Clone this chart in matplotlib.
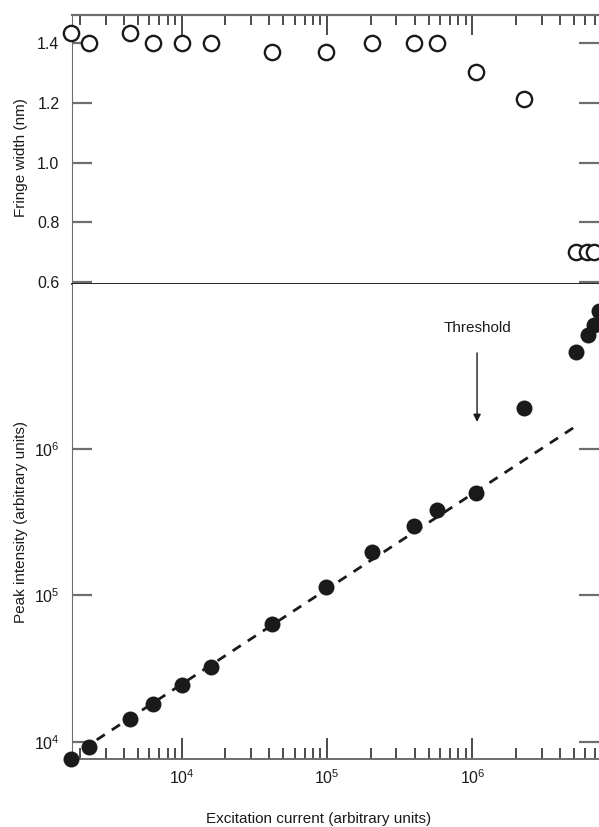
import matplotlib
matplotlib.use("Agg")
import matplotlib.pyplot as plt
from matplotlib.ticker import LogLocator, NullFormatter, NullLocator, FixedLocator

# ==========================
# DATA
# ==========================

# excitation current for the fringe-width points
fringe_x = [1.73e3, 2.31e3, 4.41e3, 6.34e3, 1.0e4, 1.58e4, 4.21e4, 9.85e4,
            2.05e5, 3.97e5, 5.74e5, 1.054e6, 2.27e6, 5.18e6, 6.17e6, 6.88e6]
fringe_w = [1.435, 1.40, 1.435, 1.402, 1.402, 1.402, 1.37, 1.37,
            1.402, 1.402, 1.402, 1.305, 1.212, 0.70, 0.70, 0.70]

# excitation current for the peak-intensity points
peak_x = [1.74e3, 2.31e3, 4.41e3, 6.34e3, 1.0e4, 1.58e4, 4.21e4, 9.85e4,
          2.05e5, 3.97e5, 5.74e5, 1.054e6, 2.27e6, 5.2e6, 6.2e6, 6.9e6, 7.45e6]
peak_i = [7.6e3, 9.16e3, 1.43e4, 1.80e4, 2.45e4, 3.26e4, 6.34e4, 1.146e5,
          1.976e5, 2.965e5, 3.81e5, 5.0e5, 1.90e6, 4.63e6, 6.0e6, 7.0e6, 8.7e6]

# dashed power-law guide below threshold (end points)
fit_x = [2.6e3, 5.09e6]
fit_y = [1.03e4, 1.42e6]

# threshold arrow
thr_x = 1.077e6
thr_tail = 4.53e6
thr_tip = 1.53e6
thr_text_y = 6.7e6

fringe_ticks = [0.6, 0.8, 1.0, 1.2, 1.4]
peak_ticks = [1e4, 1e5, 1e6]

# ==========================
# STYLE
# ==========================

font = ["Liberation Sans", "DejaVu Sans"]
plt.rcParams["font.family"] = font
plt.rcParams["mathtext.fontset"] = "custom"
plt.rcParams["mathtext.rm"] = "Liberation Sans"
plt.rcParams["mathtext.it"] = "Liberation Sans"
plt.rcParams["font.size"] = 11

axis_grey = "#6e6e6e"
ink = "#1a1a1a"

fig = plt.figure(figsize=(5.99, 8.27), dpi=100)

ax_top = fig.add_axes([0.1202, 0.6566, 0.88, 0.3253])
ax_bot = fig.add_axes([0.1202, 0.0822, 0.88, 0.5744])

xlim = (1758, 7.45e6)

# ==========================
# TOP PANEL - FRINGE WIDTH
# ==========================

ax_top.plot(fringe_x, fringe_w, "o", ms=11, mfc="white", mec=ink,
            mew=1.7, clip_on=False, zorder=5)

ax_top.set_xscale("log")
ax_top.set_xlim(xlim)
ax_top.set_ylim(0.594, 1.495)
ax_top.set_yticks(fringe_ticks)
ax_top.set_yticklabels(["0.6", "0.8", "1.0", "1.2", "1.4"])
ax_top.xaxis.set_major_locator(LogLocator(base=10))
ax_top.xaxis.set_minor_locator(LogLocator(base=10, subs=range(2, 10)))
ax_top.xaxis.set_major_formatter(NullFormatter())
ax_top.xaxis.set_minor_formatter(NullFormatter())
ax_top.tick_params(axis="x", which="both", direction="in", top=True,
                   bottom=False, labelbottom=False, color=ink, width=1.1)
ax_top.tick_params(axis="x", which="major", length=14.5)
ax_top.tick_params(axis="x", which="minor", length=7.5)
ax_top.tick_params(axis="y", which="major", direction="in", left=True,
                   right=True, length=14.5, width=1.6, color=axis_grey,
                   pad=9, labelsize=11.5, labelcolor=ink)
ax_top.yaxis.set_minor_locator(NullLocator())
ax_top.set_ylabel("Fringe width (nm)", fontsize=11, color=ink)
ax_top.yaxis.set_label_coords(-0.083, 0.47)

ax_top.spines["right"].set_visible(False)
ax_top.spines["left"].set_color(axis_grey)
ax_top.spines["top"].set_color(axis_grey)
ax_top.spines["top"].set_linewidth(1.6)
ax_top.spines["bottom"].set_color("black")
ax_top.spines["bottom"].set_linewidth(1.2)

# ==========================
# BOTTOM PANEL - PEAK INTENSITY
# ==========================

ax_bot.plot(fit_x, fit_y, color=ink, lw=2.0, dashes=(3.5, 3), zorder=3)
ax_bot.plot(peak_x, peak_i, "o", ms=11.5, color=ink, mew=0,
            clip_on=False, zorder=5)

ax_bot.annotate("", xy=(thr_x, thr_tip), xytext=(thr_x, thr_tail),
                arrowprops=dict(arrowstyle="-|>", color=ink, lw=1.0,
                                mutation_scale=11, shrinkA=0, shrinkB=0))
ax_bot.text(thr_x, thr_text_y, "Threshold", ha="center", va="center",
            fontsize=11, color=ink)

ax_bot.set_xscale("log")
ax_bot.set_yscale("log")
ax_bot.set_xlim(xlim)
ax_bot.set_ylim(7620, 1.34e7)
ax_bot.yaxis.set_major_locator(FixedLocator(peak_ticks))
ax_bot.yaxis.set_minor_locator(NullLocator())
ax_bot.set_yticklabels([r"$\mathregular{10^4}$", r"$\mathregular{10^5}$",
                        r"$\mathregular{10^6}$"])
ax_bot.xaxis.set_major_locator(FixedLocator([1e4, 1e5, 1e6]))
ax_bot.xaxis.set_major_formatter(plt.FixedFormatter(
    [r"$\mathregular{10^4}$", r"$\mathregular{10^5}$", r"$\mathregular{10^6}$"]))
ax_bot.xaxis.set_minor_locator(LogLocator(base=10, subs=range(2, 10)))
ax_bot.xaxis.set_minor_formatter(NullFormatter())
ax_bot.tick_params(axis="x", which="both", direction="in", top=False,
                   bottom=True, color=ink, width=1.1, pad=7,
                   labelsize=11.5, labelcolor=ink)
ax_bot.tick_params(axis="x", which="major", length=15)
ax_bot.tick_params(axis="x", which="minor", length=8)
ax_bot.tick_params(axis="y", which="major", direction="in", left=True,
                   right=True, length=14.5, width=1.6, color=axis_grey,
                   pad=9, labelsize=11.5, labelcolor=ink)
ax_bot.set_ylabel("Peak intensity (arbitrary units)", fontsize=11, color=ink)
ax_bot.yaxis.set_label_coords(-0.083, 0.5)
ax_bot.set_xlabel("Excitation current (arbitrary units)", fontsize=11,
                  color=ink)
ax_bot.xaxis.set_label_coords(0.467, -0.112)

ax_bot.spines["right"].set_visible(False)
ax_bot.spines["top"].set_visible(False)
ax_bot.spines["left"].set_color(axis_grey)
ax_bot.spines["bottom"].set_color(axis_grey)
ax_bot.spines["bottom"].set_linewidth(1.4)

plt.savefig("out.png", dpi=100)
plt.close()
